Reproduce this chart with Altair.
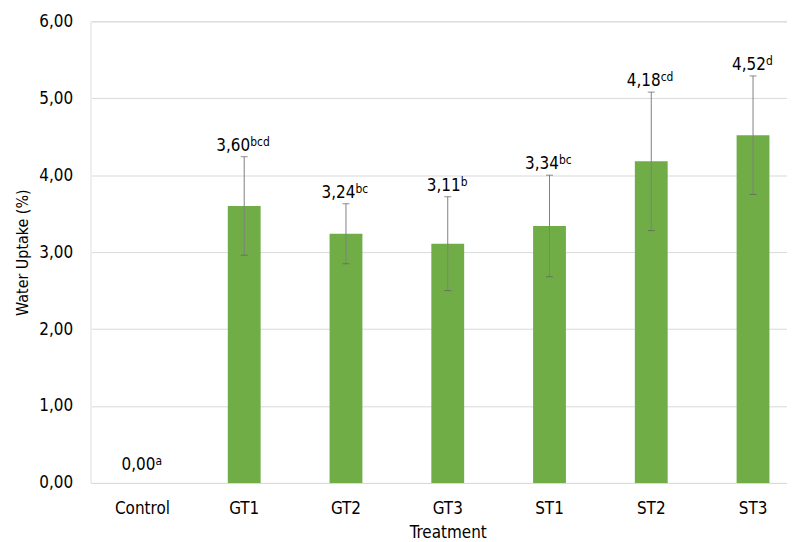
import altair as alt
import pandas as pd

categories = ["Control", "GT1", "GT2", "GT3", "ST1", "ST2", "ST3"]
means = [0.00, 3.60, 3.24, 3.11, 3.34, 4.18, 4.52]
errors = [0.00, 0.64, 0.39, 0.61, 0.66, 0.90, 0.77]
letters = ["a", "bcd", "bc", "b", "bc", "cd", "d"]
y_ticks = [0, 1, 2, 3, 4, 5, 6]

FONT = "DejaVu Sans Condensed"
X_RANGE = [1, 717]
HALF_BAND = (X_RANGE[1] - X_RANGE[0]) / len(categories) / 2
PLOT_H = 464
Y_MAX = 6
PX_PER_UNIT = PLOT_H / Y_MAX

df = pd.DataFrame({"cat": categories, "mean": means, "err": errors, "sig": letters})
df["lo"] = df["mean"] - df["err"]
df["hi"] = df["mean"] + df["err"]
df["label"] = df["mean"].map(lambda v: f"{v:.2f}".replace(".", ","))
# horizontal shift (from band start) so that "value + superscript" is centred over the bar
df["xoff"] = HALF_BAND + (33.0 - 7.0 * df["sig"].str.len()) / 2
# label baseline a few pixels above the error bar top (more when there is no error bar)
df["label_y"] = df["hi"] + df["err"].map(lambda e: 6 if e > 0 else 13) / PX_PER_UNIT

base = alt.Chart(df)

x_main = alt.X(
    "cat:N",
    sort=categories,
    scale=alt.Scale(range=X_RANGE, paddingInner=0, paddingOuter=0),
    axis=alt.Axis(
        title="Treatment", labelAngle=0, ticks=False, tickSize=0, domain=False, grid=False,
        labelFontSize=17, labelColor="#000000", labelPadding=18, labelFont=FONT,
        titleFontSize=17, titleFont=FONT, titleColor="#000000", titleFontWeight="normal",
        titleY=55, titleBaseline="alphabetic",
    ),
)
x_plain = alt.X("cat:N", sort=categories)

bars = base.mark_bar(color="#70AD47", size=33).encode(
    x=x_main,
    y=alt.Y(
        "mean:Q",
        scale=alt.Scale(domain=[0, Y_MAX], nice=False, zero=True),
        axis=alt.Axis(
            values=y_ticks, labelExpr="replace(format(datum.value, '.2f'), '.', ',')",
            grid=True, gridColor="#D9D9D9", gridWidth=1, domain=False, ticks=False, tickSize=0,
            labelPadding=18, labelFontSize=17, labelColor="#000000", labelFont=FONT,
            title="Water Uptake (%)", titleFontSize=16, titleFont=FONT, titleColor="#000000",
            titleFontWeight="normal", titleX=-63, titleY=232, titleBaseline="alphabetic",
            titleAlign="center",
        ),
    ),
)

eb = base.transform_filter("datum.err > 0")
rule = eb.mark_rule(color="#808080", strokeWidth=1).encode(x=x_plain, y="lo:Q", y2="hi:Q")
cap_top = eb.mark_tick(color="#606060", size=7, thickness=1).encode(x=x_plain, y="hi:Q")
cap_bot = eb.mark_tick(color="#606060", size=7, thickness=1).encode(x=x_plain, y="lo:Q")

main_txt = base.mark_text(align="right", baseline="alphabetic", fontSize=17, font=FONT, color="#000000").encode(
    x=x_plain,
    y="label_y:Q",
    xOffset=alt.XOffset("xoff:Q", scale=None),
    text="label:N",
)
sup_txt = base.mark_text(align="left", baseline="alphabetic", fontSize=12, font=FONT, color="#000000", dy=-5).encode(
    x=x_plain,
    y="label_y:Q",
    xOffset=alt.XOffset("xoff:Q", scale=None),
    text="sig:N",
)

chart = (
    alt.layer(bars, rule, cap_top, cap_bot, main_txt, sup_txt)
    .properties(
        width=700, height=PLOT_H,
        autosize=alt.AutoSizeParams(type="none"),
        padding={"left": 83, "top": 12, "right": 0, "bottom": 58},
        background="white",
    )
    .configure_view(stroke=None)
    .configure(font=FONT)
)

chart.save("out.html", embed_options={"renderer": "svg", "actions": False})
